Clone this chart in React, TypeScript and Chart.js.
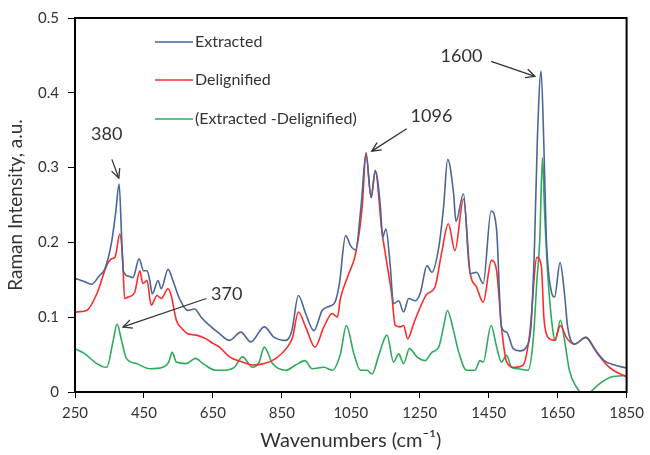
import React, { useEffect, useRef } from "react";
import { Chart, registerables } from "chart.js";

Chart.register(...registerables);

const FONT = "Lato, 'Open Sans', sans-serif";

const xTickValues = [250, 450, 650, 850, 1050, 1250, 1450, 1650, 1850];
const yTickValues = [0, 0.1, 0.2, 0.3, 0.4, 0.5];

const seriesLabels = ["Extracted", "Delignified", "(Extracted -Delignified)"];
const seriesColors = ["#4a6699", "#ff2a2a", "#2eaa5c"];

const extracted: [number, number][] = [
  [250, 0.152], [275, 0.148], [298, 0.144], [320, 0.155], [337, 0.165], [356, 0.2], [368, 0.24],
  [378, 0.278], [385, 0.21], [390, 0.162], [404, 0.155], [418, 0.153], [436, 0.178], [449, 0.162],
  [459, 0.162], [467, 0.149], [474, 0.131], [491, 0.149], [500, 0.138], [520, 0.164], [534, 0.149],
  [553, 0.125], [577, 0.109], [597, 0.111], [616, 0.1], [640, 0.089], [669, 0.078], [698, 0.069],
  [731, 0.08], [760, 0.067], [799, 0.087], [828, 0.073], [861, 0.069], [879, 0.082], [898, 0.129],
  [919, 0.105], [943, 0.082], [967, 0.109], [990, 0.115], [1004, 0.12], [1017, 0.145], [1035, 0.209],
  [1050, 0.195], [1064, 0.19], [1080, 0.25], [1094, 0.318], [1109, 0.26], [1121, 0.296], [1136, 0.247],
  [1142, 0.207], [1152, 0.218], [1164, 0.171], [1174, 0.118], [1189, 0.122], [1203, 0.107],
  [1218, 0.125], [1237, 0.122], [1252, 0.133], [1271, 0.169], [1285, 0.16], [1305, 0.193],
  [1319, 0.247], [1331, 0.311], [1348, 0.266], [1355, 0.228], [1377, 0.265], [1396, 0.158],
  [1415, 0.16], [1434, 0.145], [1457, 0.242], [1473, 0.216], [1487, 0.087], [1502, 0.08],
  [1521, 0.058], [1540, 0.055], [1564, 0.064], [1573, 0.09], [1583, 0.198], [1591, 0.336],
  [1602, 0.429], [1610, 0.33], [1617, 0.207], [1631, 0.136], [1641, 0.127], [1657, 0.173],
  [1670, 0.131], [1679, 0.087], [1699, 0.064], [1732, 0.073], [1756, 0.058], [1785, 0.042],
  [1815, 0.036], [1850, 0.032],
];

const delignified: [number, number][] = [
  [250, 0.107], [284, 0.109], [313, 0.131], [342, 0.169], [356, 0.178], [366, 0.18], [380, 0.211],
  [388, 0.18], [394, 0.125], [404, 0.127], [423, 0.133], [438, 0.162], [447, 0.145], [459, 0.149],
  [471, 0.116], [488, 0.129], [500, 0.125], [520, 0.138], [529, 0.129], [544, 0.096], [560, 0.085],
  [577, 0.078], [602, 0.076], [630, 0.071], [650, 0.065], [669, 0.06], [698, 0.047], [736, 0.04],
  [765, 0.036], [799, 0.038], [833, 0.045], [866, 0.06], [881, 0.073], [898, 0.107], [919, 0.087],
  [946, 0.06], [972, 0.087], [996, 0.105], [1011, 0.1], [1020, 0.125], [1044, 0.158], [1064, 0.185],
  [1083, 0.247], [1094, 0.32], [1109, 0.26], [1121, 0.296], [1140, 0.216], [1155, 0.171],
  [1168, 0.133], [1179, 0.089], [1194, 0.087], [1203, 0.089], [1215, 0.071], [1232, 0.091],
  [1251, 0.113], [1271, 0.131], [1294, 0.14], [1313, 0.185], [1333, 0.225], [1352, 0.189],
  [1377, 0.258], [1396, 0.16], [1415, 0.14], [1434, 0.12], [1458, 0.176], [1473, 0.162],
  [1487, 0.087], [1502, 0.04], [1526, 0.033], [1550, 0.036], [1569, 0.078], [1590, 0.18],
  [1603, 0.167], [1610, 0.1], [1622, 0.073], [1641, 0.069], [1658, 0.089], [1675, 0.073],
  [1699, 0.064], [1732, 0.073], [1766, 0.051], [1800, 0.033], [1850, 0.02],
];

const difference: [number, number][] = [
  [250, 0.058], [279, 0.051], [313, 0.038], [342, 0.033], [361, 0.069], [372, 0.091], [385, 0.069],
  [399, 0.045], [428, 0.038], [467, 0.031], [505, 0.033], [522, 0.04], [532, 0.053], [544, 0.04],
  [573, 0.038], [600, 0.045], [621, 0.038], [659, 0.029], [678, 0.029], [712, 0.033], [736, 0.047],
  [765, 0.033], [784, 0.04], [799, 0.06], [823, 0.038], [861, 0.029], [890, 0.036], [917, 0.042],
  [938, 0.031], [972, 0.033], [996, 0.029], [1020, 0.051], [1037, 0.089], [1059, 0.051],
  [1078, 0.029], [1097, 0.029], [1112, 0.024], [1131, 0.049], [1155, 0.076], [1174, 0.04],
  [1189, 0.051], [1203, 0.038], [1220, 0.058], [1242, 0.047], [1266, 0.042], [1285, 0.053],
  [1305, 0.06], [1319, 0.087], [1330, 0.109], [1348, 0.082], [1362, 0.055], [1386, 0.029],
  [1410, 0.029], [1425, 0.042], [1434, 0.04], [1457, 0.089], [1473, 0.06], [1487, 0.04],
  [1502, 0.049], [1516, 0.033], [1535, 0.031], [1564, 0.029], [1579, 0.069], [1590, 0.15],
  [1598, 0.202], [1606, 0.313], [1612, 0.242], [1622, 0.153], [1636, 0.082], [1643, 0.069],
  [1658, 0.096], [1670, 0.069], [1684, 0.029], [1704, 0.007], [1723, -0.002], [1745, 0.0],
  [1766, 0.009], [1805, 0.02], [1850, 0.022],
];

// annotation: label, label position [x, y], arrow start [x, y], arrow end [x, y]
const annotationLabels = ["380", "370", "1096", "1600"];
const annotationText: [number, number][] = [[342, 0.345], [690, 0.131], [1284, 0.369], [1371, 0.449]];
const annotationFrom: [number, number][] = [[357, 0.311], [631, 0.125], [1212, 0.352], [1457, 0.442]];
const annotationTo: [number, number][] = [[377, 0.286], [389, 0.087], [1111, 0.322], [1584, 0.422]];

const framePlugin = {
  id: "frameAndNotes",
  afterDatasetsDraw(chart: any) {
    const { ctx, chartArea, scales } = chart;
    const xs = scales.x;
    const ys = scales.y;
    ctx.save();
    // frame
    ctx.strokeStyle = "#000";
    ctx.lineWidth = 2;
    ctx.strokeRect(chartArea.left, chartArea.top, chartArea.right - chartArea.left, chartArea.bottom - chartArea.top);

    // legend
    ctx.font = `16px ${FONT}`;
    ctx.textBaseline = "middle";
    ctx.textAlign = "left";
    const legendY = [42, 80, 119];
    chart.data.datasets.forEach((ds: any, i: number) => {
      ctx.strokeStyle = ds.borderColor;
      ctx.lineWidth = 1.6;
      ctx.beginPath();
      ctx.moveTo(155, legendY[i]);
      ctx.lineTo(193, legendY[i]);
      ctx.stroke();
      ctx.fillStyle = "#333";
      ctx.fillText(ds.label, 195, legendY[i]);
    });

    // annotations
    ctx.font = `18px ${FONT}`;
    ctx.textAlign = "center";
    ctx.fillStyle = "#333";
    ctx.strokeStyle = "#333";
    ctx.lineWidth = 1.3;
    annotationLabels.forEach((lab, i) => {
      const tx = xs.getPixelForValue(annotationText[i][0]);
      const ty = ys.getPixelForValue(annotationText[i][1]);
      ctx.fillText(lab, tx, ty);
      const x1 = xs.getPixelForValue(annotationFrom[i][0]);
      const y1 = ys.getPixelForValue(annotationFrom[i][1]);
      const x2 = xs.getPixelForValue(annotationTo[i][0]);
      const y2 = ys.getPixelForValue(annotationTo[i][1]);
      ctx.beginPath();
      ctx.moveTo(x1, y1);
      ctx.lineTo(x2, y2);
      ctx.stroke();
      const ang = Math.atan2(y2 - y1, x2 - x1);
      const hl = 10;
      ctx.beginPath();
      ctx.moveTo(x2 - hl * Math.cos(ang - 0.45), y2 - hl * Math.sin(ang - 0.45));
      ctx.lineTo(x2, y2);
      ctx.lineTo(x2 - hl * Math.cos(ang + 0.45), y2 - hl * Math.sin(ang + 0.45));
      ctx.stroke();
    });
    ctx.restore();
  },
};

export default function App() {
  const ref = useRef<HTMLCanvasElement | null>(null);
  useEffect(() => {
    if (!ref.current) return;
    const toPts = (arr: [number, number][]) => arr.map(([x, y]) => ({ x, y }));
    const all = [extracted, delignified, difference];
    const chart = new Chart(ref.current, {
      type: "line",
      data: {
        datasets: all.map((arr, i) => ({
          label: seriesLabels[i],
          data: toPts(arr),
          borderColor: seriesColors[i],
          backgroundColor: seriesColors[i],
          borderWidth: 1.6,
          pointRadius: 0,
          cubicInterpolationMode: "monotone" as const,
          fill: false,
        })),
      },
      options: {
        animation: false,
        responsive: true,
        maintainAspectRatio: false,
        layout: { padding: { top: 17, right: 21, left: 0, bottom: 0 } },
        plugins: { legend: { display: false }, tooltip: { enabled: false } },
        scales: {
          x: {
            type: "linear",
            min: 250,
            max: 1850,
            afterFit: (s: any) => { s.height = 63; },
            afterBuildTicks: (s: any) => { s.ticks = xTickValues.map((v) => ({ value: v })); },
            ticks: { color: "#333", font: { family: FONT, size: 15 }, padding: 6, maxRotation: 0, callback: (v: any) => String(v) },
            grid: { display: true, drawOnChartArea: false, drawTicks: true, tickLength: 6, color: "#000" },
            border: { display: false },
            title: { display: true, text: "Wavenumbers (cm⁻¹)", color: "#333", font: { family: FONT, size: 20 }, padding: { top: 0, bottom: 2 } },
          },
          y: {
            type: "linear",
            min: 0,
            max: 0.5,
            afterFit: (s: any) => { s.width = 75; },
            afterBuildTicks: (s: any) => { s.ticks = yTickValues.map((v) => ({ value: v })); },
            ticks: { color: "#333", font: { family: FONT, size: 15 }, padding: 9, callback: (v: any) => (v === 0 ? "0" : Number(v).toFixed(1)) },
            grid: { display: true, drawOnChartArea: false, drawTicks: true, tickLength: 7, color: "#000" },
            border: { display: false },
            title: { display: true, text: "Raman Intensity, a.u.", color: "#333", font: { family: FONT, size: 19 }, padding: { top: 4, bottom: 0 } },
          },
        },
      },
      plugins: [framePlugin],
    });
    return () => chart.destroy();
  }, []);
  return (
    <div style={{ position: "absolute", left: 0, top: 0, width: 650, height: 455, background: "#fff" }}>
      <canvas ref={ref} />
    </div>
  );
}
